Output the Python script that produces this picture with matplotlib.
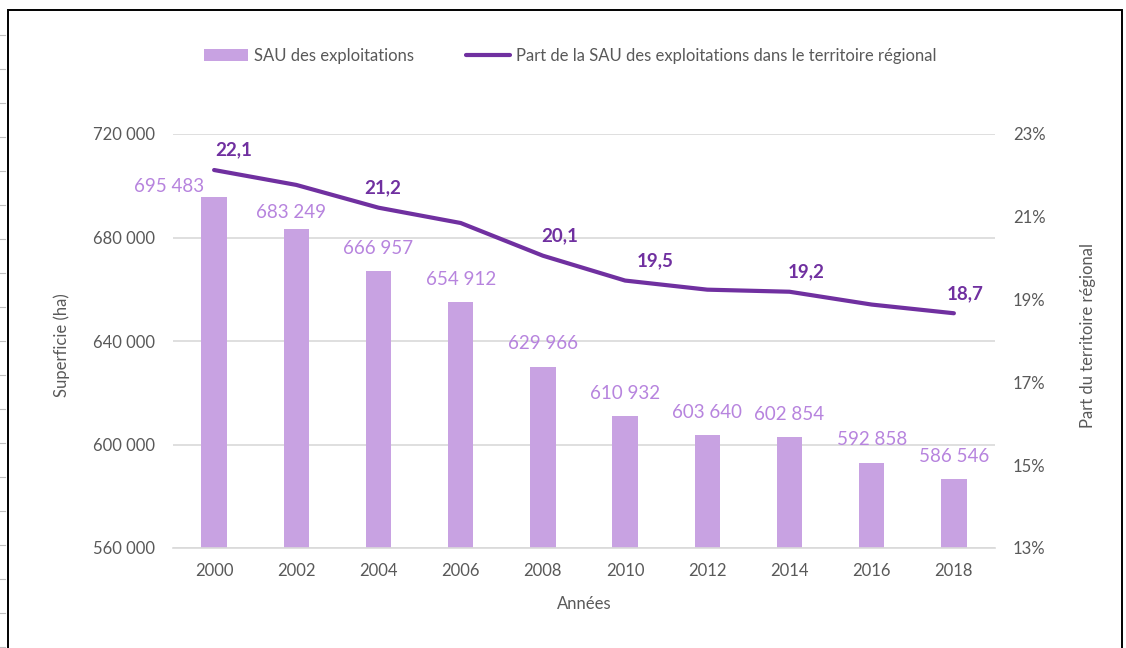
import matplotlib.pyplot as plt
from matplotlib.lines import Line2D
from matplotlib.patches import Patch, Rectangle

plt.rcParams['font.family'] = ['Lato', 'DejaVu Sans']

annees = ['2000', '2002', '2004', '2006', '2008', '2010', '2012', '2014', '2016', '2018']
sau = [695483, 683249, 666957, 654912, 629966, 610932, 603640, 602854, 592858, 586546]
part = [22.13, 21.77, 21.22, 20.85, 20.06, 19.46, 19.24, 19.19, 18.88, 18.67]
# which points of the line get a label in the original
part_labelled = [0, 2, 4, 5, 7, 9]

bar_col = '#C8A2E2'
bar_txt = '#B784DE'
line_col = '#7030A0'
grey = '#595959'
fs = 12

fig = plt.figure(figsize=(11.26, 6.48), dpi=100)
ax = fig.add_axes([173 / 1126, 1 - 548 / 648, 822 / 1126, 414 / 648])
ax2 = ax.twinx()

x = list(range(len(annees)))
ax.bar(x, sau, width=0.31, color=bar_col, zorder=2)
ax.set_xlim(-0.5, len(annees) - 0.5)
ax.set_ylim(560000, 720000)
ax.set_yticks([560000, 600000, 640000, 680000, 720000])
ax.set_yticklabels([f'{v:,}'.replace(',', ' ') for v in ax.get_yticks().astype(int)])
ax.set_xticks(x)
ax.set_xticklabels(annees)
ax.grid(axis='y', color='#D9D9D9', linewidth=1.2, zorder=0)
ax.set_axisbelow(True)
for s in ['top', 'right', 'left']:
    ax.spines[s].set_visible(False)
ax.spines['bottom'].set_color('#D9D9D9')
ax.spines['bottom'].set_linewidth(1.2)
ax.tick_params(axis='y', length=0, pad=13, labelsize=fs, labelcolor=grey)
ax.tick_params(axis='x', length=0, pad=11, labelsize=fs, labelcolor=grey)

# bar labels (first two are nudged in the source chart)
bar_dx = [-45, -5, 0, 0, 0, 0, 0, 0, 0, 0]
bar_dy = [11, 17, 23, 23, 23, 23, 23, 23, 23, 23]
for i, v in enumerate(sau):
    ax.annotate(f'{v:,}'.replace(',', ' '), (i, v),
                xytext=(bar_dx[i] * 0.72, bar_dy[i] * 0.72), textcoords='offset points',
                ha='center', va='center', fontsize=13.5, color=bar_txt)

ax2.plot(x, part, color=line_col, linewidth=3, solid_capstyle='round',
         solid_joinstyle='round', zorder=3)
ax2.set_ylim(13, 23)
ax2.set_yticks([13, 15, 17, 19, 21, 23])
ax2.set_yticklabels([f'{t}%' for t in [13, 15, 17, 19, 21, 23]])
for s in ['top', 'right', 'left', 'bottom']:
    ax2.spines[s].set_visible(False)
ax2.tick_params(axis='y', length=0, pad=13, labelsize=fs, labelcolor=grey)

line_dx = [20, 4, 17, 30, 17, 11]
for k, i in enumerate(part_labelled):
    ax2.annotate(f'{part[i]:.1f}'.replace('.', ','), (i, part[i]),
                 xytext=(line_dx[k] * 0.72, 20 * 0.72), textcoords='offset points',
                 ha='center', va='center', fontsize=13.5, fontweight='bold', color=line_col)

fig.text(62 / 1126, 1 - 345 / 648, 'Superficie (ha)', rotation=90, ha='center', va='center',
         fontsize=fs, color=grey)
fig.text(1088 / 1126, 1 - 336 / 648, 'Part du territoire régional', rotation=90,
         ha='center', va='center', fontsize=fs, color=grey)
fig.text(584 / 1126, 1 - 604 / 648, 'Années', ha='center', va='center', fontsize=fs, color=grey)

handles = [Patch(facecolor=bar_col, edgecolor='none'),
           Line2D([0], [0], color=line_col, linewidth=3, solid_capstyle='round')]
fig.legend(handles, ['SAU des exploitations',
                     'Part de la SAU des exploitations dans le territoire régional'],
           loc='center', bbox_to_anchor=(570 / 1126, 1 - 56 / 648), ncol=2, frameon=False,
           fontsize=fs, labelcolor=grey, handlelength=2.64, handletextpad=0.36,
           columnspacing=3.1)

# frame of the pasted chart and the faint sheet marks on the left
fig.patches.append(Rectangle((8 / 1126, -0.05), 1114 / 1126, 1.05 - 10 / 648,
                             transform=fig.transFigure, fill=False, edgecolor='black',
                             linewidth=1.4))
for yy in range(35, 648, 34):
    fig.add_artist(Line2D([0, 5 / 1126], [1 - yy / 648, 1 - yy / 648],
                          color='#BFBFBF', linewidth=0.8))

fig.savefig('out.png', dpi=100)
